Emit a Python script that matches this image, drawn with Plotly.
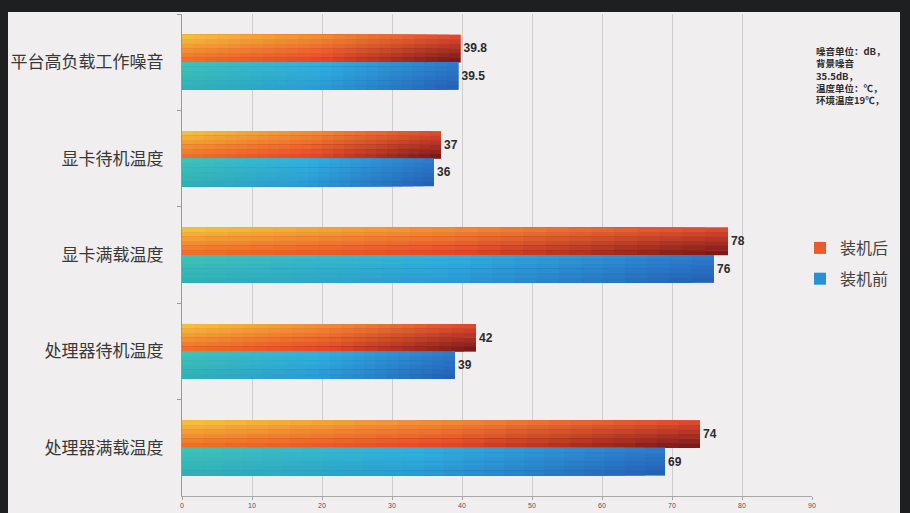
import plotly.graph_objects as go

# ---- data ----
categories = ["平台高负载工作噪音", "显卡待机温度", "显卡满载温度", "处理器待机温度", "处理器满载温度"]
after_vals = [39.8, 37, 78, 42, 74]     # 装机后
before_vals = [39.5, 36, 76, 39, 69]    # 装机前
after_text = ["39.8", "37", "78", "42", "74"]
before_text = ["39.5", "36", "76", "39", "69"]
series_names = ["装机后", "装机前"]
x_ticks = [0, 10, 20, 30, 40, 50, 60, 70, 80, 90]
note = "噪音单位：dB，<br>背景噪音<br>35.5dB，<br>温度单位：℃，<br>环境温度19℃，"

# ---- style ----
W = 0.285          # bar thickness (category units)
NSTEP = 24         # horizontal gradient steps
NBAND = 6          # vertical gradient bands

def hx(c):
    c = c.lstrip("#")
    return [int(c[i:i + 2], 16) for i in (0, 2, 4)]

def lerp(a, b, t):
    return [a[i] + (b[i] - a[i]) * t for i in range(3)]

def row_color(stops, t):
    if t <= 0.5:
        return lerp(hx(stops[0]), hx(stops[1]), t / 0.5)
    return lerp(hx(stops[1]), hx(stops[2]), (t - 0.5) / 0.5)

def color_at(top, bottom, t, s):
    c = lerp(row_color(top, t), row_color(bottom, t), s)
    return "rgb(%d,%d,%d)" % tuple(int(round(v)) for v in c)

orange_top = ["#F5C83E", "#F29032", "#E84A30"]
orange_bot = ["#EE6828", "#E6402A", "#6A1419"]
blue_top = ["#3EC4B6", "#30B2E0", "#2C7ACC"]
blue_bot = ["#30B0B4", "#2A9AD4", "#245CB4"]

fig = go.Figure()

specs = [
    (series_names[0], after_vals, after_text, -W, orange_top, orange_bot, "#EC5A2C"),
    (series_names[1], before_vals, before_text, 0.0, blue_top, blue_bot, "#2A90D4"),
]

for name, vals, txt, off, top, bot, mid in specs:
    fig.add_trace(go.Bar(
        y=categories, x=vals, orientation="h", name=name, legendgroup=name,
        offset=off, width=W, marker=dict(color=mid, line=dict(width=0)),
        text=txt, textposition="outside", cliponaxis=False,
        textfont=dict(family="Liberation Sans Narrow, Liberation Sans, Arial", size=12,
                      color="#2b2b2b", weight="bold"),
        hoverinfo="skip",
    ))
    for j in range(NBAND):
        s = (j + 0.5) / NBAND
        for k in range(NSTEP):
            frac = (NSTEP - k) / NSTEP
            t = (NSTEP - k - 0.5) / NSTEP
            fig.add_trace(go.Bar(
                y=categories, x=[v * frac for v in vals], orientation="h",
                offset=off + j * W / NBAND, width=W / NBAND + 0.002,
                marker=dict(color=color_at(top, bot, t, s), line=dict(width=0)),
                showlegend=False, legendgroup=name, hoverinfo="skip",
            ))

frame_col = "#F0EEEF"
PL, PR, PT, PB = 182, 98, 14, 17
pw, ph = 910 - PL - PR, 513 - PT - PB

def px_x(p):
    return (p - PL) / pw

def px_y(p):
    return (513 - PB - p) / ph

fig.update_layout(
    width=910, height=513,
    margin=dict(l=PL, r=PR, t=PT, b=PB, pad=0, autoexpand=False),
    paper_bgcolor="#1E1F21",
    plot_bgcolor=frame_col,
    barmode="overlay",
    showlegend=True,
    legend=dict(
        x=px_x(800), y=px_y(231), xanchor="left", yanchor="top",
        font=dict(family="Noto Sans CJK SC", size=16, color="#444444"),
        bgcolor="rgba(0,0,0,0)", traceorder="grouped", tracegroupgap=7,
        itemwidth=30,
    ),
    shapes=[dict(
        type="rect", xref="paper", yref="paper", layer="below",
        x0=px_x(8), x1=px_x(900), y0=px_y(513), y1=px_y(12),
        fillcolor=frame_col, line=dict(width=0),
    )],
    annotations=[dict(
        xref="paper", yref="paper", x=px_x(814), y=px_y(42),
        xanchor="left", yanchor="top", align="left", showarrow=False,
        text=note,
        font=dict(family="Noto Sans CJK SC", size=9.5, color="#2e2e2e", weight="bold"),
    )],
    xaxis=dict(
        range=[0, 90], tickvals=x_ticks, ticktext=[str(v) for v in x_ticks],
        showgrid=True, gridcolor="#CDCDCD", gridwidth=1,
        showline=True, linecolor="#A8A8A8", linewidth=1,
        ticks="outside", ticklen=3, tickcolor="#A8A8A8",
        tickfont=dict(family="Liberation Sans Narrow, Liberation Sans", size=7, color="#555555"),
        zeroline=False, fixedrange=True, automargin=False,
    ),
    yaxis=dict(
        autorange="reversed", type="category",
        showgrid=False, showline=True, linecolor="#9A9A9A", linewidth=1,
        ticks="outside", ticklen=4, tickcolor="#9A9A9A", tickson="boundaries",
        ticklabelstandoff=14,
        tickfont=dict(family="Noto Sans CJK SC", size=17, color="#383838"),
        fixedrange=True, automargin=False,
    ),
)

fig.write_html(
    "out.html",
    config={"displayModeBar": False},
    post_script="document.body.style.margin='0';document.body.style.overflow='hidden';",
)
